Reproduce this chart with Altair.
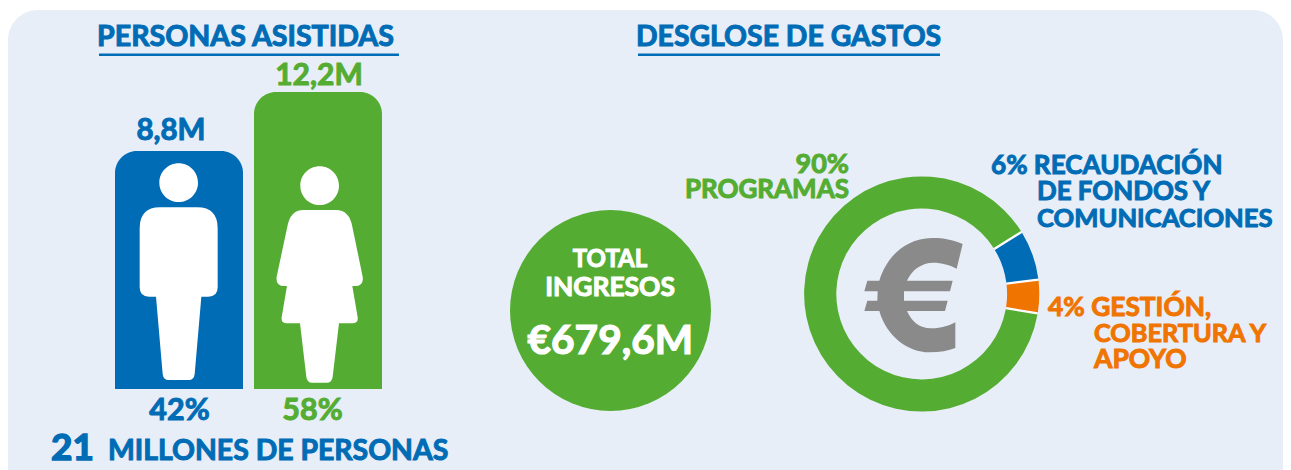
import altair as alt

# ---- values ----
people_groups = ["Hombres", "Mujeres"]
people_millions = [8.8, 12.2]
people_floor = [-4.92, -4.92]   # the bars' base as drawn (they do not start at zero)
people_labels = ["8,8M", "12,2M"]
people_shares = ["42%", "58%"]
spend_groups = ["Programas", "Recaudación", "Gestión"]
spend_arc_shares = [88.5, 6.9, 4.6]   # sweep as drawn
spend_order = [1, 2, 3]

BLUE, GREEN, ORANGE = "#006cb5", "#54ad32", "#f07400"
PANEL, GREY = "#e8eef8", "#8a8a8a"
FONT = "Lato"
W, H = 1275, 462
OX, OY = 8, 8   # page margin


def px(x):
    return x - OX


def py(y):
    return y - OY


def shape(commands, cx, cy, half):
    """Icon outline given in reference crop units -> symbol path in [-1, 1]."""
    out = []
    for tok in commands.split():
        if tok[0].isalpha():
            out.append(tok)
        else:
            a, b = tok.split(",")
            out.append(f"{(float(a) - cx) / half:.4f},{(float(b) - cy) / half:.4f}")
    return " ".join(out)


def head(cx, cy, r):
    k = 0.5523 * r
    return (
        f"M {cx - r},{cy} C {cx - r},{cy - k} {cx - k},{cy - r} {cx},{cy - r} "
        f"C {cx + k},{cy - r} {cx + r},{cy - k} {cx + r},{cy} "
        f"C {cx + r},{cy + k} {cx + k},{cy + r} {cx},{cy + r} "
        f"C {cx - k},{cy + r} {cx - r},{cy + k} {cx - r},{cy} Z "
    )


MAN = head(266, 308, 58) + (
    "M 210,382 L 322,382 Q 383,382 383,445 L 383,622 Q 383,650 355,650 L 334,650 "
    "L 314,882 Q 312,900 296,900 L 236,900 Q 220,900 218,882 L 198,650 L 177,650 "
    "Q 149,650 149,622 L 149,445 Q 149,382 210,382 Z"
)
WOMAN = head(689, 317, 58) + (
    "M 640,390 L 738,390 Q 778,390 787,440 L 818,590 Q 822,618 795,618 L 787,618 "
    "L 803,712 Q 805,730 788,730 L 747,730 L 728,890 Q 726,908 710,908 L 667,908 "
    "Q 651,908 649,890 L 630,730 L 590,730 Q 573,730 575,712 L 591,618 L 583,618 "
    "Q 556,618 560,590 L 592,440 Q 601,390 640,390 Z"
)
EURO = (
    "M 548,312 C 515,298 485,293 455,294 C 375,296 320,350 298,422 L 262,422 L 253,454 "
    "L 293,454 L 292,482 L 262,482 L 253,513 L 298,513 C 320,590 385,638 450,637 "
    "C 480,637 505,632 526,624 L 526,547 C 505,558 480,566 452,565 C 420,565 395,545 381,513 "
    "L 495,513 L 503,482 L 372,482 L 372,454 L 510,454 L 518,422 L 381,422 "
    "C 395,390 425,368 460,368 C 485,368 510,375 530,386 Z"
)

one = alt.Data(values=[{"k": 0}])


def label(text, x, y, color, size, align="left", heavy=1.0):
    return alt.Chart(one).mark_text(
        align=align, baseline="alphabetic", font=FONT, fontWeight="bold",
        fontSize=size, color=color, stroke=color, strokeWidth=heavy,
    ).encode(x=alt.value(px(x)), y=alt.value(py(y)), text=alt.value(text))


def underline(x1, x2, y, color):
    return alt.Chart(one).mark_rule(color=color, strokeWidth=2.6).encode(
        x=alt.value(px(x1)), x2=alt.value(px(x2)), y=alt.value(py(y))
    )


people = alt.Data(values=[
    {"g": g, "m": m, "b": b} for g, m, b in zip(people_groups, people_millions, people_floor)
])
spend = alt.Data(values=[
    {"g": g, "s": s, "o": o} for g, s, o in zip(spend_groups, spend_arc_shares, spend_order)
])

panel = alt.Chart(one).mark_rect(
    color=PANEL, cornerRadiusTopLeft=30, cornerRadiusTopRight=30
).encode(x=alt.value(0), x2=alt.value(W), y=alt.value(py(10)), y2=alt.value(H))

x_people = alt.X("g:N", axis=None, sort=people_groups,
                 scale=alt.Scale(type="band", range=[px(115), px(382)], paddingInner=0.079, paddingOuter=0))
y_people = alt.Y("m:Q", axis=None, stack=None,
                 scale=alt.Scale(domain=[-4.92, 12.2], range=[py(389), py(92)], zero=False, nice=False))

bars = alt.Chart(people).mark_bar(cornerRadiusTopLeft=22, cornerRadiusTopRight=22).encode(
    x=x_people, y=y_people, y2=alt.Y2("b:Q"),
    color=alt.Color("g:N", legend=None, scale=alt.Scale(domain=people_groups, range=[BLUE, GREEN])),
)

man = alt.Chart(alt.Data(values=[{"g": people_groups[0]}])).mark_point(
    shape=shape(MAN, 267, 575, 325), filled=True, fill="white", opacity=1, size=46944
).encode(x=x_people, y=alt.value(py(271.67)))
woman = alt.Chart(alt.Data(values=[{"g": people_groups[1]}])).mark_point(
    shape=shape(WOMAN, 684, 583.5, 325), filled=True, fill="white", opacity=1, size=46944
).encode(x=x_people, y=alt.value(py(274.5)))

total = alt.Chart(one).mark_circle(color=GREEN, opacity=1, size=201 ** 2).encode(
    x=alt.value(px(610.5)), y=alt.value(py(310.5))
)

DONUT_X, DONUT_Y = px(921.7), py(294)
theta = alt.Theta("s:Q", stack=True, scale=alt.Scale(domain=[0, 100], range=[1.737, 1.737 + 6.2832]))
ring_gap = alt.Chart(spend).mark_arc(radius=117, radius2=86, color="white").encode(
    theta=theta, order=alt.Order("o:Q"), x=alt.value(DONUT_X), y=alt.value(DONUT_Y)
)
ring = alt.Chart(spend).mark_arc(radius=117.6, radius2=85.4, padAngle=0.016).encode(
    theta=theta, order=alt.Order("o:Q"), x=alt.value(DONUT_X), y=alt.value(DONUT_Y),
    color=alt.Color("g:N", legend=None, scale=alt.Scale(domain=spend_groups, range=[GREEN, BLUE, ORANGE])),
)
euro = alt.Chart(one).mark_point(
    shape=shape(EURO, 400, 465, 172), filled=True, fill=GREY, opacity=1, size=(2 * 172 / 3) ** 2
).encode(x=alt.value(px(780 + 400 / 3)), y=alt.value(py(140 + 465 / 3)))

layers = [
    panel, bars, man, woman, total, ring_gap, ring, euro,
    label("PERSONAS ASISTIDAS", 97, 46, BLUE, 28.6),
    underline(99, 399, 54.7, BLUE),
    label("DESGLOSE DE GASTOS", 636, 46, BLUE, 28.4),
    underline(638, 940, 54.7, BLUE),
    label(people_labels[1], 319, 85, GREEN, 30, "center"),
    label(people_labels[0], 171, 140, BLUE, 29.5, "center"),
    label(people_shares[0], 179.5, 420, BLUE, 30.5, "center"),
    label(people_shares[1], 312.5, 420, GREEN, 30.5, "center"),
    label("21", 51, 460, BLUE, 37, heavy=1.5),
    label("MILLONES DE PERSONAS", 108, 460, BLUE, 28.4),
    label("TOTAL", 610, 267, "white", 24, "center"),
    label("INGRESOS", 610, 296, "white", 26.4, "center"),
    label("€679,6M", 610.3, 354, "white", 40.6, "center", heavy=1.2),
    label("90%", 849, 173, GREEN, 27, "right"),
    label("PROGRAMAS", 849, 198, GREEN, 26, "right"),
    label("6% RECAUDACIÓN", 991, 174, BLUE, 26.1),
    label("DE FONDOS Y", 1037, 200, BLUE, 25.9),
    label("COMUNICACIONES", 1037, 227, BLUE, 25.6),
    label("4% GESTIÓN,", 1048, 316, ORANGE, 26.3),
    label("COBERTURA Y", 1094, 342, ORANGE, 25.3),
    label("APOYO", 1094, 368, ORANGE, 26.5),
]

chart = alt.layer(*layers).resolve_scale(color="independent").properties(
    width=W, height=H, padding=0, background="white",
    autosize=alt.AutoSizeParams(type="none"),
).configure_view(stroke=None)

chart.save("out.html", embed_options={"renderer": "svg", "actions": False})
